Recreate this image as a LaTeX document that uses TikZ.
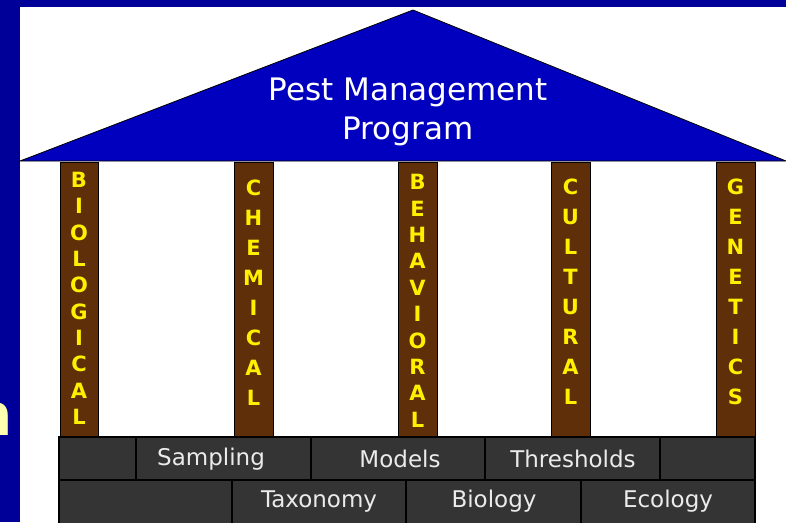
\documentclass[tikz,border=0pt]{standalone}
\usepackage{fontspec}
\setmainfont{DejaVu Sans}
\usetikzlibrary{positioning}

\definecolor{slideblue}{RGB}{0,0,153}
\definecolor{roofblue}{RGB}{0,0,190}
\definecolor{woodbrown}{RGB}{94,47,8}
\definecolor{pillaryellow}{RGB}{255,240,0}
\definecolor{brickgray}{RGB}{52,52,52}
\definecolor{paleyellow}{RGB}{255,255,175}

\tikzset{
  pillar/.style={fill=woodbrown,draw=black,line width=0.6pt},
  letter/.style={text=pillaryellow,font=\bfseries\fontsize{21}{21}\selectfont,inner sep=0pt},
  brick/.style={fill=brickgray,draw=black,line width=1.6pt},
  bricktext/.style={text=white!92!black,font=\fontsize{23}{23}\selectfont,inner sep=0pt}
}

\begin{document}
\begin{tikzpicture}[x=1pt,y=-1pt]

% Slide background and white panel
\fill[slideblue] (0,0) rectangle (786,522);
\fill[white] (20,7) rectangle (786,522);
\useasboundingbox (0,0) rectangle (786,522);

% Cut-off word at the left edge
\begin{scope}
\clip (0,380) rectangle (20,460);
\node[anchor=base east,text=paleyellow,font=\bfseries\fontsize{58}{58}\selectfont,inner sep=0pt] (edge) at (13,435) {n};
\end{scope}

% Roof
\coordinate (roofL) at (20,161);
\coordinate (roofT) at (413,10);
\coordinate (roofR) at (786,161);
\draw[fill=roofblue,draw=black,line width=0.8pt] (roofL)--(roofT)--(roofR)--cycle;
\node[text=white,font=\fontsize{31}{31}\selectfont,inner sep=0pt] (title1) at (408,92) {Pest Management};
\node[text=white,font=\fontsize{31}{31}\selectfont,inner sep=0pt] (title2) at (408,131) {Program};

% Pillars
\draw[pillar] (60,162) rectangle (98,436);
\draw[pillar] (234,162) rectangle (273,436);
\draw[pillar] (398,162) rectangle (437,436);
\draw[pillar] (551,162) rectangle (590,436);
\draw[pillar] (716,162) rectangle (755,436);

\foreach \l [count=\i] in {B,I,O,L,O,G,I,C,A,L}
  \node[letter] (bio\i) at (79,{180+26.3*(\i-1)}) {\l};
\foreach \l [count=\i] in {C,H,E,M,I,C,A,L}
  \node[letter] (chem\i) at (253.5,{188+30*(\i-1)}) {\l};
\foreach \l [count=\i] in {B,E,H,A,V,I,O,R,A,L}
  \node[letter] (beh\i) at (417.5,{182+26.4*(\i-1)}) {\l};
\foreach \l [count=\i] in {C,U,L,T,U,R,A,L}
  \node[letter] (cult\i) at (570.5,{187+30*(\i-1)}) {\l};
\foreach \l [count=\i] in {G,E,N,E,T,I,C,S}
  \node[letter] (gen\i) at (735.5,{187+30*(\i-1)}) {\l};

% Foundation, upper row
\draw[brick] (59,437) rectangle (136,480);
\draw[brick] (136,437) rectangle (311,480);
\draw[brick] (311,437) rectangle (485,480);
\draw[brick] (485,437) rectangle (660,480);
\draw[brick] (660,437) rectangle (755,480);
\node[bricktext] (sampling) at (211,459) {Sampling};
\node[bricktext] (models) at (400,459) {Models};
\node[bricktext] (thresholds) at (573,459) {Thresholds};

% Foundation, lower row
\draw[brick] (59,480) rectangle (232,524);
\draw[brick] (232,480) rectangle (406,524);
\draw[brick] (406,480) rectangle (581,524);
\draw[brick] (581,480) rectangle (755,524);
\node[bricktext] (taxonomy) at (319,501) {Taxonomy};
\node[bricktext] (biology) at (494,501) {Biology};
\node[bricktext] (ecology) at (668,501) {Ecology};

\end{tikzpicture}
\end{document}
